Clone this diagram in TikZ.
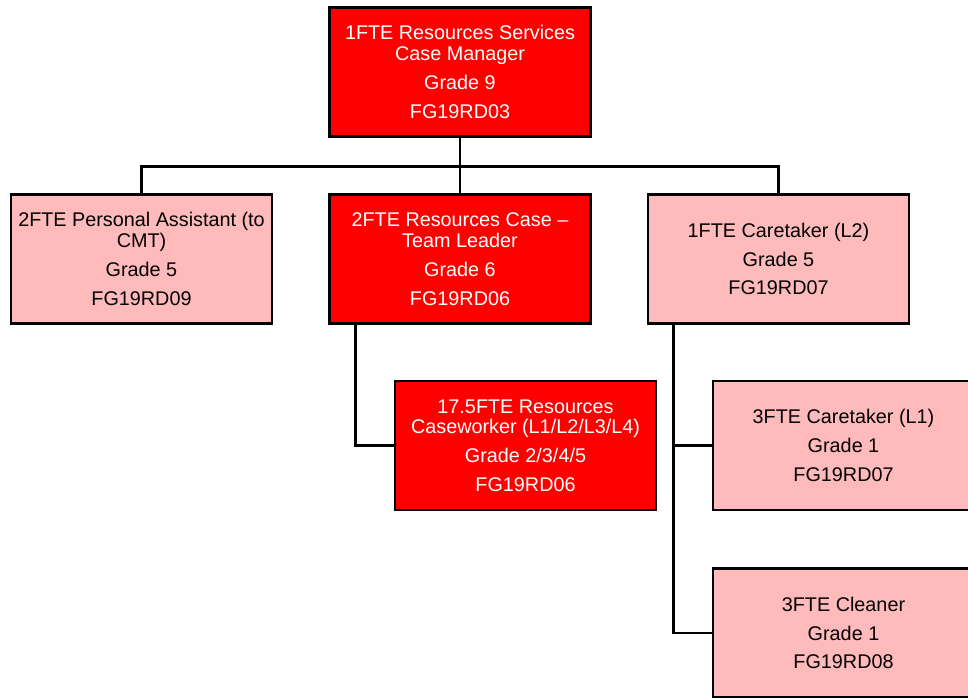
\documentclass[tikz,border=0pt]{standalone}
\usepackage{fontspec}
\setmainfont{Liberation Sans}
\begin{document}
\begin{tikzpicture}[x=1pt,y=-1pt,
  post/.style={draw=black, line width=2.6pt, minimum width=261pt, minimum height=129pt,
    align=center, inner sep=2pt, font=\fontsize{19.8}{20.8}\selectfont},
  senior/.style={post, fill=red, text=white},
  staff/.style={post, fill=pinkfill, text=black},
  link/.style={draw=black, line width=2.8pt}
]
\definecolor{pinkfill}{HTML}{FFBBBB}
\useasboundingbox (0,0) rectangle (968,697);
\clip (0,0) rectangle (968,697);

% posts
\node[senior] (top) at (460,72)    {1FTE Resources Services\\Case Manager\\[8pt]Grade 9\\[8pt]FG19RD03};
\node[staff]  (pa)  at (141.5,259) {2FTE Personal Assistant (to\\CMT)\\[8pt]Grade 5\\[8pt]FG19RD09};
\node[senior] (tl)  at (460,259)   {2FTE Resources Case --\\Team Leader\\[8pt]Grade 6\\[8pt]FG19RD06};
\node[staff]  (ct2) at (778.5,259) {1FTE Caretaker (L2)\\[8pt]Grade 5\\[8pt]FG19RD07};
\node[senior] (cw)  at (525.5,445.5) {17.5FTE Resources\\Caseworker (L1/L2/L3/L4)\\[8pt]Grade 2/3/4/5\\[8pt]FG19RD06};
\node[staff]  (ct1) at (843.5,445.5) {3FTE Caretaker (L1)\\[8pt]Grade 1\\[8pt]FG19RD07};
\node[staff]  (cl)  at (843.5,633) {3FTE Cleaner\\[8pt]Grade 1\\[8pt]FG19RD08};

% reporting lines
\draw[link] (top.south) -- ++(0,29) coordinate (bus);
\draw[link] (pa.north) |- (bus) -| (ct2.north);
\draw[link] (bus) -- (tl.north);
\draw[link] ([xshift=27pt]tl.south west) |- (cw.west);
\draw[link] ([xshift=27pt]ct2.south west) |- (ct1.west);
\draw[link] ([xshift=27pt]ct2.south west) |- (cl.west);
\end{tikzpicture}
\end{document}
